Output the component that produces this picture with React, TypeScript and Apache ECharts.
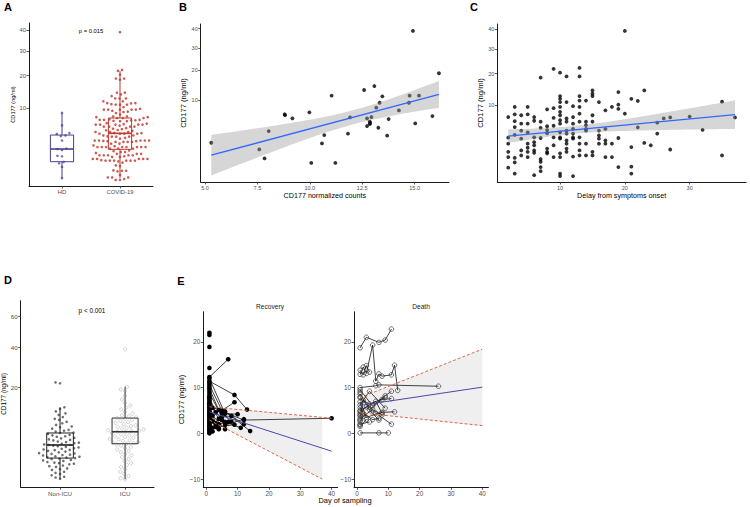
import React, { useEffect, useRef } from 'react';
import * as echarts from 'echarts';

// ---------------- data ----------------
const hdValues = [8.8, 6.05, 4.6, 4.45, 4.2, 4.1, 3.4, 2.3, 2.25, 2.13, 1.5, 1.45, 0.95, 0.85, 0.6, 0.1];
const hdBox = [0.1, 0.97, 2.25, 4.27, 8.75];
const covidBox = [0.1, 2.21, 4.56, 7.6, 21.8];

// panel C: [delay from symptoms onset, CD177 ng/ml]
const cPoints: [number, number][] = [
  [2, 7.2], [2, 3.35], [2, 2.5], [2, 1.55], [2, 1.06], [2, 0.35],
  [3, 9.6], [3, 7.8], [3, 6.3], [3, 5.15], [3, 3.8], [3, 1.0], [3, 0.65], [3, 0.12],
  [4, 7.6], [4, 5.8], [4, 4.5], [4, 3.2], [4, 1.7], [4, 1.2],
  [5, 9.6], [5, 7.8], [5, 5.8], [5, 4.2], [5, 2.5], [5, 2.0], [5, 1.55], [5, 1.06],
  [6, 7.2], [6, 6.4], [6, 3.4], [6, 2.7], [6, 2.3], [6, 1.7], [6, 1.45], [6, 0.08],
  [7, 18.6], [7, 6.2], [7, 5.0], [7, 3.3], [7, 0.9], [7, 0.7], [7, 0.38], [7, 0.2],
  [8, 9.0], [8, 5.3], [8, 4.6], [8, 4.05], [8, 1.9], [8, 1.55], [8, 1.4],
  [9, 21.8], [9, 9.3], [9, 7.0], [9, 5.4], [9, 3.4], [9, 2.3], [9, 1.06],
  [10, 20.4], [10, 12.6], [10, 11.8], [10, 10.9], [10, 9.6], [10, 8.4], [10, 7.6], [10, 6.5],
  [10, 5.8], [10, 4.2], [10, 3.4], [10, 3.2], [10, 1.4], [10, 1.06], [10, 0.12], [10, 0.06],
  [11, 19.0], [11, 10.9], [11, 6.9], [11, 6.2], [11, 4.5], [11, 4.0], [11, 2.95], [11, 2.5], [11, 1.9], [11, 1.55],
  [12, 9.8], [12, 7.2], [12, 5.8], [12, 4.8], [12, 4.0], [12, 3.4], [12, 3.2], [12, 1.1], [12, 0.06],
  [13, 22.2], [13, 19.0], [13, 12.6], [13, 11.3], [13, 9.6], [13, 7.95], [13, 6.2], [13, 3.4], [13, 2.5], [13, 1.7], [13, 1.2],
  [14, 11.3], [14, 6.2], [14, 5.5], [14, 4.8], [14, 4.5], [14, 2.5], [14, 1.2],
  [15, 14.3], [15, 13.3], [15, 12.6], [15, 7.6], [15, 6.2], [15, 1.55], [15, 1.2],
  [16, 10.9], [16, 4.5], [16, 3.7], [16, 3.2], [16, 2.5],
  [17, 8.75], [17, 4.8], [17, 2.95], [17, 2.5], [17, 1.06],
  [18, 9.6], [18, 2.5], [18, 1.06],
  [19, 13.8], [19, 10.2], [19, 9.1], [19, 3.3], [19, 0.38],
  [20, 38.9], [20, 7.95],
  [21, 11.8], [21, 2.08], [21, 0.4], [21, 0.12],
  [22, 11.2], [22, 5.1], [23, 14.3], [23, 2.6], [24, 2.3],
  [25, 6.0], [25, 4.0], [26, 6.9], [27, 7.1], [27, 1.8],
  [30, 7.3], [32, 4.65], [35, 11.0], [35, 1.2], [37, 7.1],
];
const covidValues = cPoints.map((p) => p[1]);

// panel B: [CD177 normalized counts, CD177 ng/ml]
const bPoints: [number, number][] = [
  [5.3, 1.61], [7.59, 0.95], [7.84, 0.33], [8.04, 3.19], [8.8, 6.4], [8.82, 6.2], [9.17, 5.52],
  [9.98, 6.84], [10.07, 0.14], [10.58, 1.54], [10.69, 2.59], [11.04, 11.25], [11.22, 0.14],
  [11.82, 2.79], [11.92, 5.73], [12.59, 13.0], [12.73, 5.52], [12.73, 4.04], [12.86, 4.87],
  [12.88, 4.6], [12.86, 4.4], [12.94, 5.8], [13.08, 14.3], [13.17, 7.97], [13.27, 3.74],
  [13.33, 9.25], [13.46, 11.05], [13.69, 2.5], [13.76, 5.38], [14.25, 7.3], [14.73, 9.25],
  [14.76, 11.25], [14.92, 38.7], [15.03, 4.52], [15.21, 11.25], [15.85, 6.0], [16.16, 18.9],
];

const nonIcuValues = [22.0, 21.6, 12.5, 12.0, 11.2, 10.6, 10.1, 9.5, 9.0, 8.7, 8.2, 7.8, 7.4, 7.0, 6.8,
  6.5, 6.2, 6.0, 5.8, 5.6, 5.5, 5.3, 5.1, 5.0, 4.8, 4.7, 4.5, 4.4, 4.2, 4.1, 4.0, 3.8, 3.7, 3.6,
  3.5, 3.4, 3.3, 3.2, 3.2, 3.1, 3.0, 2.9, 2.8, 2.7, 2.6, 2.5, 2.45, 2.4, 2.3, 2.2, 2.1, 2.0, 1.95,
  1.9, 1.8, 1.75, 1.7, 1.6, 1.55, 1.5, 1.45, 1.4, 1.35, 1.3, 1.2, 1.15, 1.1, 1.0, 0.95, 0.9, 0.85,
  0.8, 0.7, 0.65, 0.6, 0.5, 0.45, 0.4, 0.3, 0.25, 0.2, 0.15, 0.1, 0.08, 0.05];
const icuValues = [38.7, 20.1, 19.0, 18.4, 16.5, 15.2, 14.0, 13.1, 12.4, 11.8, 11.0, 10.5, 10.0, 9.7,
  9.4, 9.2, 9.0, 8.7, 8.4, 8.1, 7.9, 7.6, 7.3, 7.1, 6.9, 6.7, 6.5, 6.3, 6.1, 6.0, 5.9, 5.8, 5.7,
  5.5, 5.3, 5.2, 5.0, 4.8, 4.7, 4.5, 4.3, 4.2, 4.0, 3.9, 3.7, 3.6, 3.5, 3.4, 3.3, 3.1, 2.9, 2.7,
  2.5, 2.3, 2.1, 1.9, 1.7, 1.5, 1.3, 1.1, 0.9, 0.75, 0.6, 0.45, 0.3, 0.2, 0.12, 0.06, 0.04];
const nonIcuBox = [0.05, 1.4, 3.2, 5.5, 12.5];
const icuBox = [0.04, 3.41, 5.77, 9.22, 20.1];

// panel E: trajectories [day of sampling, CD177 ng/ml]
const recoveryPatients: [number, number][][] = [
  [[1, 22.0]], [[1, 21.5]], [[1, 18.9]], [[1, 14.3]],
  [[1, 12.3], [7, 16.2]],
  [[1, 11.4], [9, 8.4], [13, 5.2]],
  [[1, 10.6], [5, 5.0], [9, 6.8]],
  [[1, 12.0], [6, 4.3], [10, 4.2]],
  [[1, 9.8], [4, 5.1], [12, 2.9], [40, 3.3]],
  [[1, 8.8], [5, 3.6], [8, 3.8], [12, 2.0]],
  [[1, 7.9], [3, 4.6], [6, 2.5], [11, 1.2]],
  [[1, 7.3], [2, 5.6], [6, 4.8], [14, 0.5]],
  [[1, 6.6], [4, 3.2], [6, 1.8], [12, 3.1]],
  [[1, 6.0], [3, 2.2], [5, 4.4], [8, 2.6]],
  [[1, 5.4], [2, 3.9], [6, 0.9]],
  [[1, 4.8], [3, 1.4], [5, 2.9]],
  [[1, 4.2], [2, 2.6], [4, 1.1]],
  [[1, 3.6], [4, 2.0], [7, 2.5]],
  [[1, 3.0], [3, 1.8]],
  [[1, 2.4], [2, 1.2], [9, 1.9]],
  [[1, 1.8], [4, 0.9]],
  [[1, 1.2], [2, 0.4]],
  [[1, 11.0]], [[1, 10.2]], [[1, 9.3]], [[1, 8.3]], [[1, 7.6]], [[1, 6.9]], [[1, 6.3]], [[1, 5.7]],
  [[1, 5.1]], [[1, 4.5]], [[1, 3.9]], [[1, 3.3]], [[1, 2.7]], [[1, 2.1]], [[1, 1.5]], [[1, 0.9]],
  [[1, 0.6]], [[1, 0.3]], [[1, 0.0]],
];
const deathPatients: [number, number][][] = [
  [[1, 18.7], [3, 21.0], [7, 19.9], [9, 20.4], [11, 22.8]],
  [[1, 12.9], [2, 14.5], [3, 13.1], [5, 19.3], [6, 11.4], [7, 13.0], [8, 12.5], [11, 12.8], [12, 14.9], [13, 9.4]],
  [[1, 13.8], [2, 12.8], [3, 14.8], [4, 13.4]],
  [[1, 10.0], [6, 10.4], [7, 10.6], [26, 10.3]],
  [[1, 0.1], [7, 0.1], [10, 0.1]],
  [[1, 9.5], [5, 6.0], [9, 8.2], [11, 9.2]],
  [[1, 8.6], [4, 5.2], [8, 7.4], [11, 7.6]],
  [[1, 7.8], [6, 4.4], [11, 2.0]],
  [[1, 6.9], [3, 3.5], [8, 4.6], [12, 4.7]],
  [[1, 6.2], [4, 9.2], [9, 5.5]],
  [[1, 5.6], [2, 4.4], [5, 3.0], [7, 3.3]],
  [[1, 5.0], [6, 7.0], [8, 4.4]],
  [[1, 4.4], [3, 5.8], [7, 2.9]],
  [[1, 3.8], [2, 7.2], [4, 6.4], [9, 7.8]],
  [[1, 3.2], [5, 5.2], [8, 4.0]],
  [[1, 2.6], [2, 3.7]],
  [[1, 2.0], [4, 2.5]],
  [[1, 1.5], [3, 3.0]],
  [[1, 9.0]], [[1, 8.0]], [[1, 4.8]], [[1, 4.0]], [[1, 2.9]], [[1, 1.8]],
];
const recoveryFitDays = [1, 40];
const recoveryFit = [4.7, -3.9];
const recoveryUpperDays = [1, 37, 40];
const recoveryUpper = [5.8, 3.5, 3.3];
const recoveryLowerDays = [1, 37];
const recoveryLower = [2.9, -10.0];
const deathFitDays = [1, 40];
const deathFit = [6.1, 10.1];
const deathUpper = [7.8, 18.4];
const deathLower = [4.5, 1.7];

// ticks
const ticksA = [10, 20, 30, 40];
const ticksBC = [10, 20, 30, 40];
const ticksD = [20, 40, 60];
const ticksBx = [5, 7.5, 10, 12.5, 15];
const ticksCx = [10, 20, 30];
const ticksEy = [-10, 0, 10, 20];
const ticksEx = [0, 10, 20, 30, 40];
const groupsA = ['HD', 'COVID-19'];
const groupsD = ['Non-ICU', 'ICU'];

// ---------------- helpers ----------------
const FONT = "'Liberation Sans', Arial, Helvetica, sans-serif";
const LABEL = '#4d4d4d';
const sq = Math.sqrt;

function swarm(ys: number[], pxPerY: number, d: number): number[] {
  const order = ys.map((_, i) => i).sort((a, b) => ys[a] - ys[b]);
  const placed: { x: number; y: number }[] = [];
  const off = new Array(ys.length).fill(0);
  for (const i of order) {
    const yp = ys[i] * pxPerY;
    const cands = [0];
    for (const p of placed) {
      const dy = yp - p.y;
      if (Math.abs(dy) < d) {
        const dx = Math.sqrt(d * d - dy * dy);
        cands.push(p.x + dx, p.x - dx);
      }
    }
    cands.sort((a, b) => Math.abs(a) - Math.abs(b) || a - b);
    let chosen = 0;
    for (const c of cands) {
      let ok = true;
      for (const p of placed) {
        const dx = c - p.x, dy = yp - p.y;
        if (dx * dx + dy * dy < d * d - 1e-6) { ok = false; break; }
      }
      if (ok) { chosen = c; break; }
    }
    placed.push({ x: chosen, y: yp });
    off[i] = chosen;
  }
  return off;
}

function lmBand(pts: [number, number][], steps: number) {
  const n = pts.length;
  const xs = pts.map((p) => p[0]);
  const ys = pts.map((p) => p[1]);
  const mx = xs.reduce((a, b) => a + b, 0) / n;
  const my = ys.reduce((a, b) => a + b, 0) / n;
  let sxx = 0, sxy = 0;
  for (let i = 0; i < n; i++) { sxx += (xs[i] - mx) ** 2; sxy += (xs[i] - mx) * (ys[i] - my); }
  const b = sxy / sxx, a = my - b * mx;
  let rss = 0;
  for (let i = 0; i < n; i++) rss += (ys[i] - a - b * xs[i]) ** 2;
  const s = Math.sqrt(rss / (n - 2));
  const df = n - 2;
  const t = 1.96 + 2.4 / df + 3 / (df * df);
  const x0 = Math.min(...xs), x1 = Math.max(...xs);
  const upper: number[][] = [], lower: number[][] = [];
  for (let k = 0; k <= steps; k++) {
    const x = x0 + ((x1 - x0) * k) / steps;
    const f = a + b * x;
    const se = s * Math.sqrt(1 / n + (x - mx) ** 2 / sxx);
    upper.push([x, f + t * se]);
    lower.push([x, f - t * se]);
  }
  return { line: [[x0, a + b * x0], [x1, a + b * x1]], poly: [...upper, ...lower.reverse()] };
}

function polySeries(idx: number, poly: number[][], fill: string, z: number) {
  return {
    type: 'custom', xAxisIndex: idx, yAxisIndex: idx, silent: true, z, clip: true,
    data: [poly[0]],
    renderItem: (_p: any, api: any) => ({
      type: 'polygon',
      shape: { points: poly.map((p) => api.coord(p)) },
      style: { fill },
    }),
  };
}

function boxSeries(idx: number, x: number, box: number[], color: string, w: number, z: number) {
  return {
    type: 'custom', xAxisIndex: idx, yAxisIndex: idx, silent: true, z,
    data: [[x, ...box.map(sq)]],
    encode: { x: 0, y: [1, 2, 3, 4, 5] },
    renderItem: (_p: any, api: any) => {
      const cx = api.value(0);
      const v = [1, 2, 3, 4, 5].map((i) => api.value(i));
      const pMin = api.coord([cx, v[0]]);
      const pQ1 = api.coord([cx, v[1]]);
      const pQ3 = api.coord([cx, v[3]]);
      const pMax = api.coord([cx, v[4]]);
      const l = api.coord([cx - w / 2, v[3]]);
      const r = api.coord([cx + w / 2, v[1]]);
      const mL = api.coord([cx - w / 2, v[2]]);
      const mR = api.coord([cx + w / 2, v[2]]);
      const st = { stroke: color, lineWidth: 1, fill: 'rgba(0,0,0,0)' };
      return {
        type: 'group',
        children: [
          { type: 'line', shape: { x1: pMin[0], y1: pMin[1], x2: pQ1[0], y2: pQ1[1] }, style: st },
          { type: 'line', shape: { x1: pQ3[0], y1: pQ3[1], x2: pMax[0], y2: pMax[1] }, style: st },
          { type: 'rect', shape: { x: l[0], y: l[1], width: r[0] - l[0], height: r[1] - l[1] }, style: st },
          { type: 'line', shape: { x1: mL[0], y1: mL[1], x2: mR[0], y2: mR[1] }, style: { stroke: color, lineWidth: 1.6 } },
        ],
      };
    },
  };
}

function axis(gridIndex: number, min: number, max: number, ticks: number[], fmt: (v: number) => string,
  fontSize: number, extra: any = {}) {
  return {
    type: 'value', gridIndex, min, max,
    axisLine: { show: true, onZero: false, lineStyle: { color: '#1a1a1a', width: 1 } },
    axisTick: { show: true, length: 2.5, customValues: ticks, lineStyle: { color: '#333', width: 0.8 } },
    axisLabel: {
      show: true, customValues: ticks, formatter: fmt, fontSize, margin: 3, fontFamily: FONT,
      color: () => LABEL,
    },
    splitLine: { show: false },
    ...extra,
  };
}

const sqFmt = (v: number) => String(Math.round(v * v));
const nameStyle = (fontSize: number) => ({ fontSize, color: '#000', fontFamily: FONT });

const grids = [
  { left: 29, top: 23, width: 124, height: 163 },
  { left: 200.7, top: 24, width: 248.3, height: 158 },
  { left: 497.3, top: 24, width: 248.7, height: 158 },
  { left: 20.7, top: 300.7, width: 133.3, height: 186.6 },
  { left: 203.3, top: 311.7, width: 134.4, height: 175.6 },
  { left: 354, top: 311.7, width: 134.4, height: 175.6 },
];
const xr = [[-0.569, 1.569], [4.795, 16.64], [0.31, 38.7], [-0.605, 1.445], [-0.95, 41.95], [-0.95, 41.95]];
const yr = [[0, 6.61], [-0.47, 6.53], [0, 6.525], [-0.17, 8.47], [-11.8, 26.6], [-11.8, 26.6]];

function buildOption() {
  const pxX = (i: number) => grids[i].width / (xr[i][1] - xr[i][0]);
  const pxY = (i: number) => grids[i].height / (yr[i][1] - yr[i][0]);

  const hdS = hdValues.map(sq), covS = covidValues.map(sq);
  const hdOff = swarm(hdS, pxY(0), 4.6);
  const covOff = swarm(covS, pxY(0), 4.3);
  const nonS = nonIcuValues.map(sq), icuS = icuValues.map(sq);
  const nonOff = swarm(nonS, pxY(3), 4.6);
  const icuOff = swarm(icuS, pxY(3), 4.6);

  const bT = bPoints.map((p) => [p[0], sq(p[1])] as [number, number]);
  const cT = cPoints.map((p) => [p[0], sq(p[1])] as [number, number]);
  const bFit = lmBand(bT, 60);
  const cFit = lmBand(cT, 60);

  const series: any[] = [];
  // A
  series.push({
    type: 'scatter', xAxisIndex: 0, yAxisIndex: 0, symbolSize: 2.6, z: 3, silent: true,
    itemStyle: { color: '#5a4a9a' },
    data: hdS.map((y, i) => [0 + hdOff[i] / pxX(0), y]),
  });
  series.push({
    type: 'scatter', xAxisIndex: 0, yAxisIndex: 0, symbolSize: 2.6, z: 3, silent: true,
    itemStyle: { color: '#c9473d', opacity: 0.9 },
    data: covS.map((y, i) => [1 + covOff[i] / pxX(0), y]),
  });
  series.push(boxSeries(0, 0, hdBox, '#4b3d8f', 0.4, 4));
  series.push(boxSeries(0, 1, covidBox, '#c0392f', 0.4, 4));
  // B
  series.push({
    type: 'scatter', xAxisIndex: 1, yAxisIndex: 1, symbolSize: 3.8, z: 2, silent: true,
    itemStyle: { color: '#000' }, data: bT,
  });
  series.push(polySeries(1, bFit.poly, 'rgba(153,153,153,0.4)', 3));
  series.push({
    type: 'line', xAxisIndex: 1, yAxisIndex: 1, data: bFit.line, symbol: 'none', silent: true, z: 4,
    lineStyle: { color: '#3366FF', width: 1.3 },
  });
  // C
  series.push({
    type: 'scatter', xAxisIndex: 2, yAxisIndex: 2, symbolSize: 3.8, z: 2, silent: true,
    itemStyle: { color: '#000' }, data: cT,
  });
  series.push(polySeries(2, cFit.poly, 'rgba(153,153,153,0.4)', 3));
  series.push({
    type: 'line', xAxisIndex: 2, yAxisIndex: 2, data: cFit.line, symbol: 'none', silent: true, z: 4,
    lineStyle: { color: '#3366FF', width: 1.3 },
  });
  // D
  series.push({
    type: 'scatter', xAxisIndex: 3, yAxisIndex: 3, symbolSize: 2.6, z: 3, silent: true,
    itemStyle: { color: '#4a4a4a' },
    data: nonS.map((y, i) => [0 + nonOff[i] / pxX(3), y]),
  });
  series.push({
    type: 'scatter', xAxisIndex: 3, yAxisIndex: 3, symbolSize: 3.2, z: 3, silent: true,
    itemStyle: { color: 'rgba(0,0,0,0)', borderColor: '#b0b0b0', borderWidth: 0.7 },
    data: icuS.map((y, i) => [1 + icuOff[i] / pxX(3), y]),
  });
  series.push(boxSeries(3, 0, nonIcuBox, '#222', 0.41, 4));
  series.push(boxSeries(3, 1, icuBox, '#333', 0.4, 4));
  // E recovery
  const recBand = [
    [recoveryUpperDays[0], recoveryUpper[0]], [recoveryUpperDays[1], recoveryUpper[1]],
    [recoveryLowerDays[1], recoveryLower[1]], [recoveryLowerDays[0], recoveryLower[0]],
  ];
  series.push(polySeries(4, recBand, '#efefef', 1));
  recoveryPatients.forEach((p) => series.push({
    type: 'line', xAxisIndex: 4, yAxisIndex: 4, data: p, symbol: 'circle', symbolSize: 4.6, silent: true, z: 3,
    itemStyle: { color: '#000' }, lineStyle: { color: '#111', width: 0.8 },
  }));
  series.push({
    type: 'line', xAxisIndex: 4, yAxisIndex: 4, symbol: 'none', silent: true, z: 5,
    data: recoveryFitDays.map((d, i) => [d, recoveryFit[i]]), lineStyle: { color: '#4a48a8', width: 1 },
  });
  series.push({
    type: 'line', xAxisIndex: 4, yAxisIndex: 4, symbol: 'none', silent: true, z: 5,
    data: recoveryUpperDays.map((d, i) => [d, recoveryUpper[i]]), lineStyle: { color: '#e0663f', width: 1, type: [3, 2] },
  });
  series.push({
    type: 'line', xAxisIndex: 4, yAxisIndex: 4, symbol: 'none', silent: true, z: 5,
    data: recoveryLowerDays.map((d, i) => [d, recoveryLower[i]]), lineStyle: { color: '#e0663f', width: 1, type: [3, 2] },
  });
  // E death
  const dBand = [
    [deathFitDays[0], deathUpper[0]], [deathFitDays[1], deathUpper[1]],
    [deathFitDays[1], deathLower[1]], [deathFitDays[0], deathLower[0]],
  ];
  series.push(polySeries(5, dBand, '#efefef', 1));
  deathPatients.forEach((p) => series.push({
    type: 'line', xAxisIndex: 5, yAxisIndex: 5, data: p, symbol: 'circle', symbolSize: 4.6, silent: true, z: 3,
    itemStyle: { color: 'rgba(255,255,255,0)', borderColor: '#333', borderWidth: 0.7 },
    lineStyle: { color: '#111', width: 0.8 },
  }));
  series.push({
    type: 'line', xAxisIndex: 5, yAxisIndex: 5, symbol: 'none', silent: true, z: 5,
    data: deathFitDays.map((d, i) => [d, deathFit[i]]), lineStyle: { color: '#4a48a8', width: 1 },
  });
  series.push({
    type: 'line', xAxisIndex: 5, yAxisIndex: 5, symbol: 'none', silent: true, z: 5,
    data: deathFitDays.map((d, i) => [d, deathUpper[i]]), lineStyle: { color: '#e0663f', width: 1, type: [3, 2] },
  });
  series.push({
    type: 'line', xAxisIndex: 5, yAxisIndex: 5, symbol: 'none', silent: true, z: 5,
    data: deathFitDays.map((d, i) => [d, deathLower[i]]), lineStyle: { color: '#e0663f', width: 1, type: [3, 2] },
  });

  const yName = 'CD177 (ng/ml)';
  const xAxis = [
    axis(0, xr[0][0], xr[0][1], [0, 1], (v) => groupsA[Math.round(v)], 5.8),
    axis(1, xr[1][0], xr[1][1], ticksBx, (v) => v.toFixed(1), 5.5,
      { name: 'CD177 normalized counts', nameLocation: 'middle', nameGap: 10, nameTextStyle: nameStyle(7.2) }),
    axis(2, xr[2][0], xr[2][1], ticksCx, (v) => String(v), 5.5,
      { name: 'Delay from symptoms onset', nameLocation: 'middle', nameGap: 10, nameTextStyle: nameStyle(7.2) }),
    axis(3, xr[3][0], xr[3][1], [0, 1], (v) => groupsD[Math.round(v)], 6.2),
    axis(4, xr[4][0], xr[4][1], ticksEx, (v) => String(v), 6.4),
    axis(5, xr[5][0], xr[5][1], ticksEx, (v) => String(v), 6.4),
  ];
  const yAxis = [
    axis(0, yr[0][0], yr[0][1], ticksA.map(sq), sqFmt, 5.8,
      { name: yName, nameLocation: 'middle', nameGap: 11, nameTextStyle: nameStyle(5.6) }),
    axis(1, yr[1][0], yr[1][1], ticksBC.map(sq), sqFmt, 5.5,
      { name: yName, nameLocation: 'middle', nameGap: 12, nameTextStyle: nameStyle(7.6) }),
    axis(2, yr[2][0], yr[2][1], ticksBC.map(sq), sqFmt, 5.5,
      { name: yName, nameLocation: 'middle', nameGap: 11, nameTextStyle: nameStyle(7.6) }),
    axis(3, yr[3][0], yr[3][1], ticksD.map(sq), sqFmt, 6.2,
      { name: yName, nameLocation: 'middle', nameGap: 11, nameTextStyle: nameStyle(6.4) }),
    axis(4, yr[4][0], yr[4][1], ticksEy, (v) => String(v).replace('-', '\u2212'), 6.4,
      { name: yName, nameLocation: 'middle', nameGap: 16, nameTextStyle: nameStyle(7.6) }),
    axis(5, yr[5][0], yr[5][1], ticksEy, (v) => String(v).replace('-', '\u2212'), 6.4),
  ];

  const txt = (text: string, x: number, y: number, size: number, bold = false, color = '#000') => ({
    type: 'text', x, y, silent: true,
    style: {
      text, fill: color, font: `${bold ? 'bold ' : ''}${size}px ${FONT}`,
      align: 'center', verticalAlign: 'middle', textAlign: 'center', textVerticalAlign: 'middle',
    },
  });

  return {
    animation: false,
    backgroundColor: '#ffffff',
    grid: grids.map((g) => ({ ...g, containLabel: false, outerBoundsMode: 'none' })),
    xAxis,
    yAxis,
    series,
    graphic: [
      txt('A', 8, 7, 11, true),
      txt('B', 183, 7, 11, true),
      txt('C', 474, 7, 11, true),
      txt('D', 8, 280, 11, true),
      txt('E', 181, 281, 11, true),
      txt('p = 0.015', 91, 31, 5.8),
      txt('p < 0.001', 92, 310, 6.4),
      txt('Recovery', 270, 306.5, 6.6, false, '#1a1a1a'),
      txt('Death', 421, 306.5, 6.6, false, '#1a1a1a'),
      txt('Day of sampling', 345, 500.5, 7.4),
    ],
  };
}

export default function App() {
  const ref = useRef<HTMLDivElement>(null);
  useEffect(() => {
    if (!ref.current) return;
    const chart = echarts.init(ref.current, undefined, { renderer: 'svg' });
    chart.setOption(buildOption() as any);
    return () => chart.dispose();
  }, []);
  return (
    <div
      ref={ref}
      style={{ position: 'absolute', left: 0, top: 0, width: 750, height: 507, background: '#fff' }}
    />
  );
}
